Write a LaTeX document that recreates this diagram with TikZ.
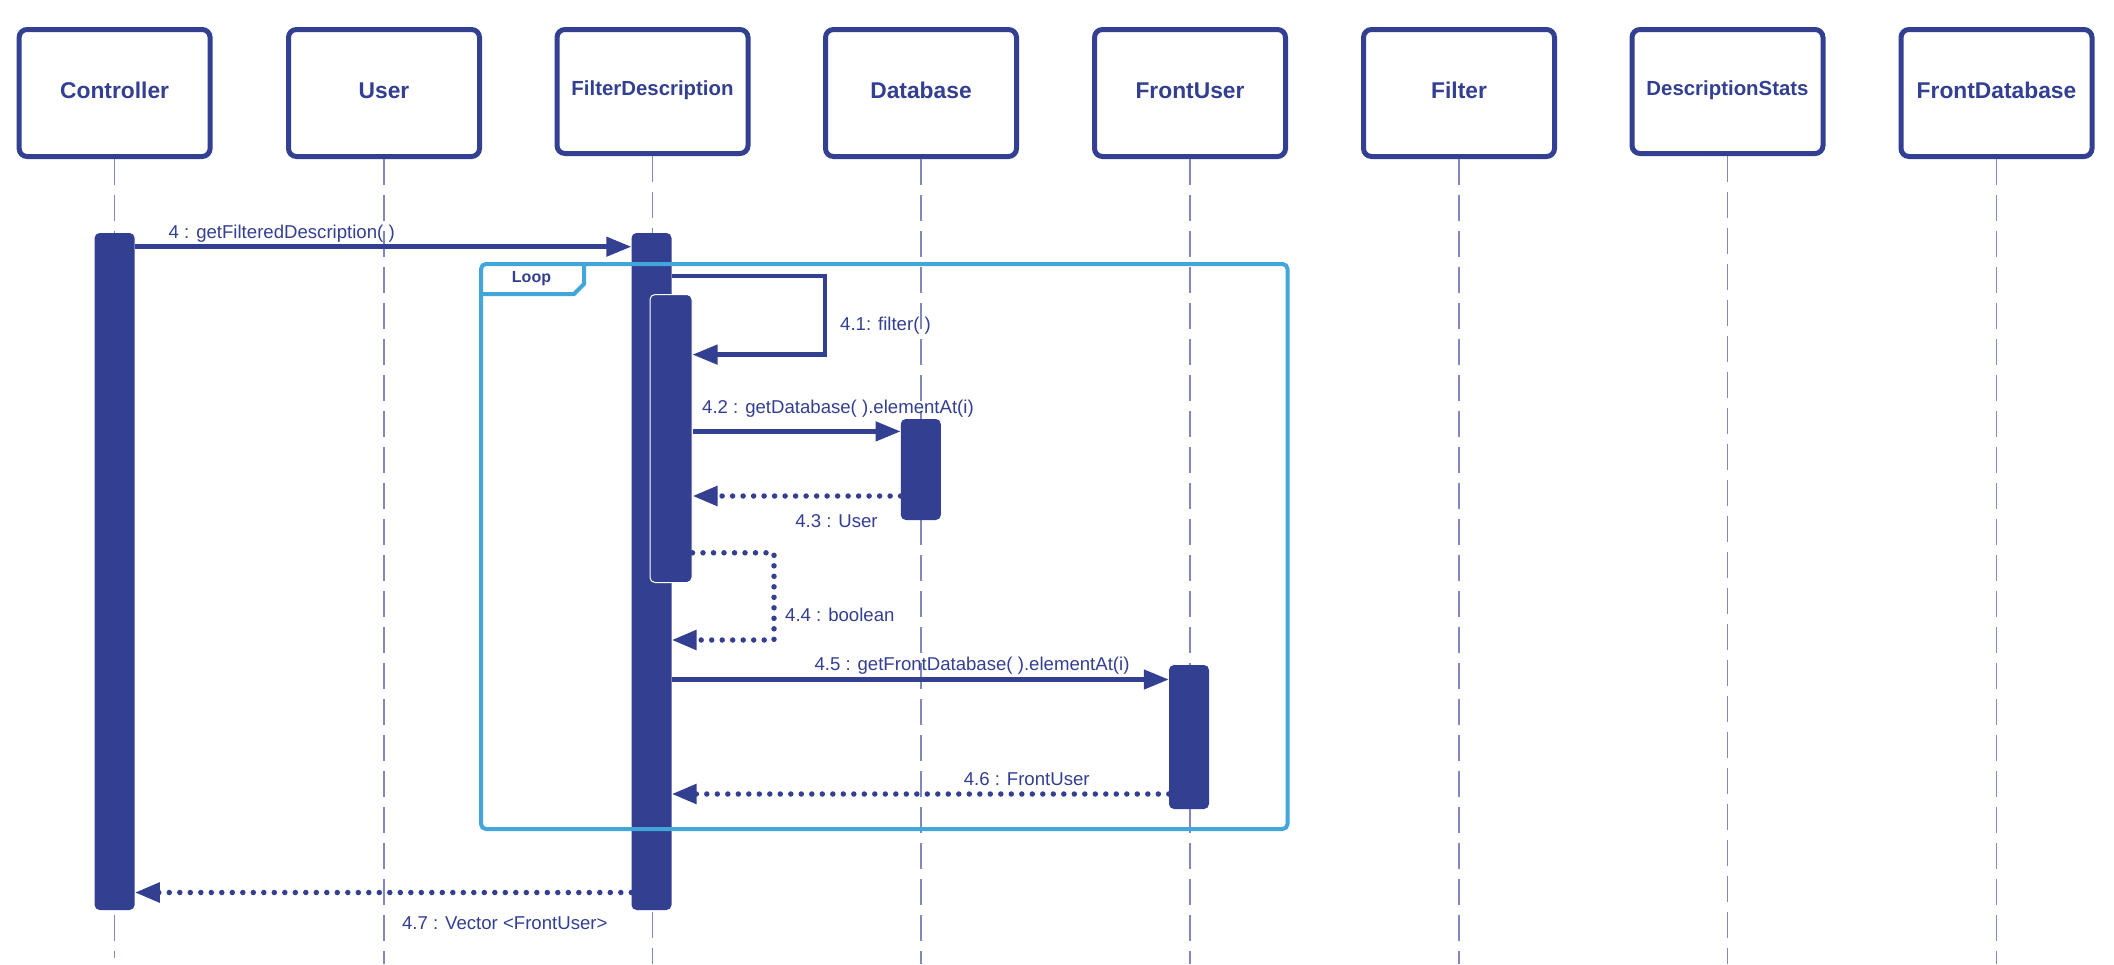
\documentclass[tikz,border=0pt]{standalone}
\usepackage{fontspec}
\setmainfont{Liberation Sans}
\usetikzlibrary{arrows.meta}
\definecolor{navy}{RGB}{51,63,145}
\definecolor{loopblue}{RGB}{66,166,219}
\definecolor{lifegray}{RGB}{128,136,190}
\newcommand{\objtitle}[2]{\raisebox{#1}[\height][\depth]{#2}}
\begin{document}
\begin{tikzpicture}[x=1pt,y=-1pt,
  obj/.style={draw=navy, line width=5pt, rounded corners=8pt, minimum width=191pt, minimum height=127pt, text=navy, fill=white, inner sep=0pt, font=\fontsize{22.8}{27}\selectfont\bfseries},
  objsmall/.style={obj, minimum height=124pt, font=\fontsize{20.4}{24}\selectfont\bfseries},
  lifeline/.style={draw=lifegray, line width=1.6pt, dash pattern=on 26pt off 10pt},
  actbar/.style={fill=navy, rounded corners=5pt, minimum width=40pt, inner sep=0pt},
  msg/.style={draw=navy, line width=4.5pt, -{Triangle[length=25pt,width=19pt]}},
  ret/.style={draw=navy, line width=5.5pt, line cap=round, dash pattern=on 0pt off 10.5pt, -{Triangle[length=25pt,width=19pt]}},
  lbl/.style={text=navy, inner sep=0pt, font=\fontsize{18.6}{22}\selectfont},
  loopframe/.style={draw=loopblue, line width=4pt}
]
\useasboundingbox[fill=white] (0,0) rectangle (2114,964);

% object boxes
\node[obj] (controller) at (114.6,93) {\objtitle{2.7pt}{Controller}};
\node[obj] (user) at (384,93) {\objtitle{2.7pt}{User}};
\node[objsmall] (filterdesc) at (652.5,91.5) {\objtitle{0.8pt}{FilterDescription}};
\node[obj] (database) at (921,93) {\objtitle{2.7pt}{Database}};
\node[obj] (frontuser) at (1190,93) {\objtitle{2.7pt}{FrontUser}};
\node[obj] (filter) at (1459,93) {\objtitle{2.7pt}{Filter}};
\node[objsmall] (descstats) at (1727.5,91.5) {\objtitle{0.8pt}{DescriptionStats}};
\node[obj] (frontdb) at (1996.5,93) {\objtitle{2.7pt}{FrontDatabase}};

% lifeline ends
\coordinate (endC) at (114.6,958);
\draw[lifeline] (controller.south) -- (controller.south |- endC);
\foreach \n in {user,filterdesc,database,frontuser,filter,descstats,frontdb}{
  \draw[lifeline] (\n.south) -- (\n.south |- 0,964);
}

% activation bars
\node[actbar, minimum height=677pt] (ctrlbar) at (114.6,571.5) {};
\node[actbar, minimum height=677pt] (fdbar) at (651.5,571.5) {};
\node[actbar, draw=white, line width=1pt, minimum width=42pt, minimum height=288pt] (fdsub) at (671,438.5) {};
\node[actbar, minimum height=101pt] (dbbar) at (920.8,469.5) {};
\node[actbar, minimum height=144pt] (fubar) at (1189,737) {};

% loop frame
\draw[loopframe, rounded corners=5pt] (481,264) rectangle (1287.5,829);
\draw[loopframe, line join=miter] (584,264) -- (584,284) -- (574,294) -- (481,294);
\node[text=navy, inner sep=0pt, font=\fontsize{16}{19}\selectfont\bfseries] (looplbl) at (531.5,279) {Loop};

% messages
\draw[msg] (ctrlbar.east |- 0,246.7) -- (fdbar.west |- 0,246.7);
\node[lbl, anchor=west] (m4) at (168.5,234) {4 : getFilteredDescription( )};

\draw[msg, line join=miter] (fdbar.east |- 0,276) -- (825,276) -- (825,354.6) -- (fdsub.east |- 0,354.6);
\node[lbl, anchor=west] (m41) at (840,326) {4.1: filter( )};

\draw[msg] (fdsub.east |- 0,431.4) -- (dbbar.west |- 0,431.4);
\node[lbl, anchor=west] (m42) at (702,408.5) {4.2 : getDatabase( ).elementAt(i)};

\draw[ret] (dbbar.west |- 0,496) -- (fdsub.east |- 0,496);
\node[lbl] (m43) at (836.5,521.5) {4.3 : User};

\draw[ret] (fdsub.east |- 0,552.8) -- (774,552.8) -- (774,640) -- (fdbar.east |- 0,640);
\node[lbl, anchor=west] (m44) at (785,614.5) {4.4 : boolean};

\draw[msg] (fdbar.east |- 0,679.5) -- (fubar.west |- 0,679.5);
\node[lbl] (m45) at (972,665.5) {4.5 : getFrontDatabase( ).elementAt(i)};

\draw[ret] (fubar.west |- 0,794) -- (fdbar.east |- 0,794);
\node[lbl] (m46) at (1026.7,779) {4.6 : FrontUser};

\draw[ret] (fdbar.west |- 0,892.5) -- (ctrlbar.east |- 0,892.5);
\node[lbl] (m47) at (504.8,923.5) {4.7 : Vector <FrontUser>};
\end{tikzpicture}
\end{document}
